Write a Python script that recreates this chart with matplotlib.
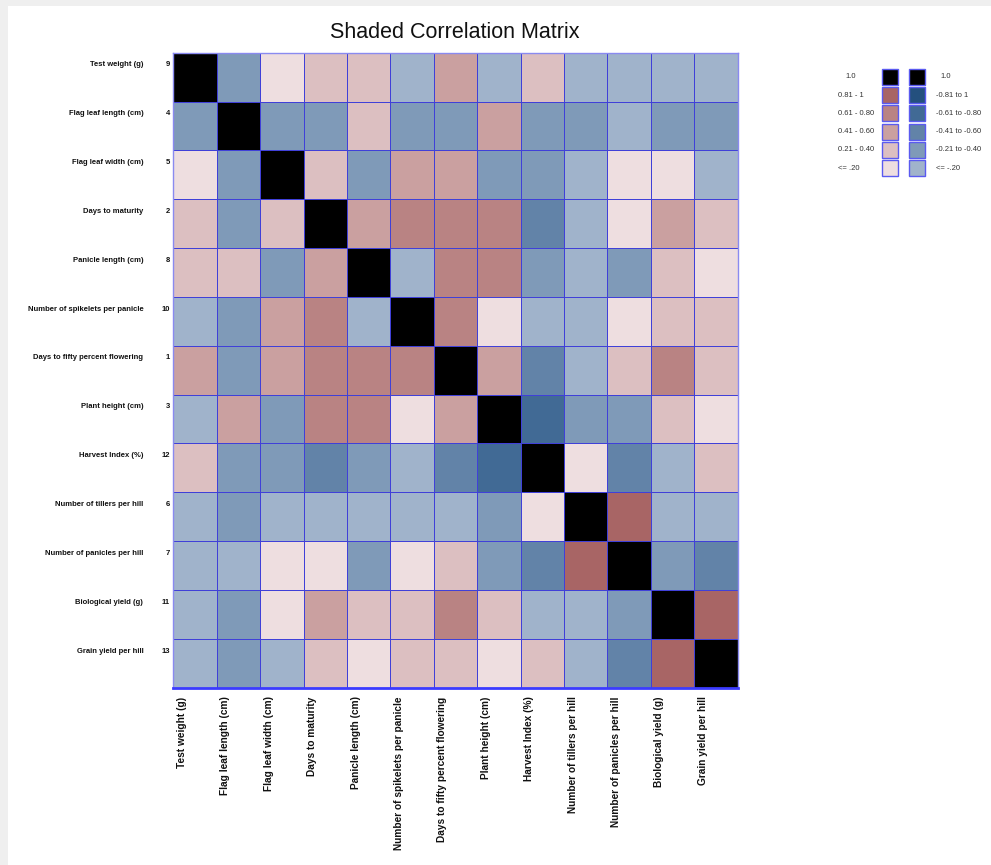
import numpy as np
import matplotlib
matplotlib.use('Agg')
import matplotlib.pyplot as plt
from matplotlib.colors import ListedColormap, BoundaryNorm
from matplotlib.patches import Rectangle

plt.rcParams['font.family'] = ['Liberation Sans', 'DejaVu Sans']
NARROW = ['Liberation Sans Narrow', 'Liberation Sans', 'DejaVu Sans']

# variables in display order, with their original index
names = [
    'Test weight (g)', 'Flag leaf length (cm)', 'Flag leaf width (cm)',
    'Days to maturity', 'Panicle length (cm)', 'Number of spikelets per panicle',
    'Days to fifty percent flowering', 'Plant height (cm)', 'Harvest Index (%)',
    'Number of tillers per hill', 'Number of panicles per hill',
    'Biological yield (g)', 'Grain yield per hill',
]
numbers = ['9', '4', '5', '2', '8', '10', '1', '3', '12', '6', '7', '11', '13']

# correlations estimated from the shading bins
corr = np.array([
    [1.00, -0.32, 0.12, 0.30, 0.31, -0.12, 0.50, -0.14, 0.29, -0.11, -0.13, -0.12, -0.10],
    [-0.32, 1.00, -0.30, -0.33, 0.28, -0.31, -0.34, 0.49, -0.30, -0.32, -0.15, -0.31, -0.29],
    [0.12, -0.30, 1.00, 0.32, -0.30, 0.51, 0.48, -0.33, -0.31, -0.13, 0.10, 0.14, -0.12],
    [0.30, -0.33, 0.32, 1.00, 0.52, 0.68, 0.70, 0.69, -0.50, -0.14, 0.11, 0.47, 0.30],
    [0.31, 0.28, -0.30, 0.52, 1.00, -0.15, 0.67, 0.71, -0.32, -0.12, -0.30, 0.33, 0.13],
    [-0.12, -0.31, 0.51, 0.68, -0.15, 1.00, 0.66, 0.12, -0.14, -0.11, 0.15, 0.29, 0.31],
    [0.50, -0.34, 0.48, 0.70, 0.67, 0.66, 1.00, 0.53, -0.48, -0.13, 0.27, 0.69, 0.30],
    [-0.14, 0.49, -0.33, 0.69, 0.71, 0.12, 0.53, 1.00, -0.70, -0.34, -0.31, 0.31, 0.11],
    [0.29, -0.30, -0.31, -0.50, -0.32, -0.14, -0.48, -0.70, 1.00, 0.13, -0.52, -0.12, 0.28],
    [-0.11, -0.32, -0.13, -0.14, -0.12, -0.11, -0.13, -0.34, 0.13, 1.00, 0.86, -0.14, -0.12],
    [-0.13, -0.15, 0.10, 0.11, -0.30, 0.15, 0.27, -0.31, -0.52, 0.86, 1.00, -0.33, -0.51],
    [-0.12, -0.31, 0.14, 0.47, 0.33, 0.29, 0.69, 0.31, -0.12, -0.14, -0.33, 1.00, 0.88],
    [-0.10, -0.29, -0.12, 0.30, 0.13, 0.31, 0.30, 0.11, 0.28, -0.12, -0.51, 0.88, 1.00],
])

# legend entries
pos_labels = ['1.0', '0.81 - 1', '0.61 - 0.80', '0.41 - 0.60', '0.21 - 0.40', '<= .20']
neg_labels = ['1.0', '-0.81 to 1', '-0.61 to -0.80', '-0.41 to -0.60', '-0.21 to -0.40', '<= -.20']
pos_levels = [1.0, 0.9, 0.7, 0.5, 0.3, 0.1]
neg_levels = [1.0, -0.9, -0.7, -0.5, -0.3, -0.1]

shade_colors = ['#24507e', '#416a95', '#6283a8', '#7f9ab8', '#a0b3cb',
                '#eedee0', '#dcbfc1', '#caa0a0', '#b98383', '#a86565', '#000000']
bounds = [-1.001, -0.805, -0.605, -0.405, -0.205, 0.0, 0.205, 0.405, 0.605, 0.805, 0.995, 1.001]
cmap = ListedColormap(shade_colors)
norm = BoundaryNorm(bounds, cmap.N)

W, H = 991, 865
fig = plt.figure(figsize=(W / 100, H / 100), dpi=100)
fig.patch.set_facecolor('#efefef')
fig.patches.append(Rectangle((8 / W, 0), 1, 1 - 6 / H, transform=fig.transFigure,
                             facecolor='white', edgecolor='none', zorder=-10))

n = len(names)
x0, x1, y0, y1 = 173.3, 737.5, 52.7, 687.7
ax = fig.add_axes([x0 / W, 1 - y1 / H, (x1 - x0) / W, (y1 - y0) / H])
ax.pcolormesh(np.arange(n + 1), np.arange(n + 1), corr, cmap=cmap, norm=norm,
              edgecolors='#4040d8', linewidth=0.6)
ax.set_xlim(0, n)
ax.set_ylim(n, 0)
ax.set_xticks([])
ax.set_yticks([])
for side, sp in ax.spines.items():
    sp.set_color('#3b3bff' if side == 'bottom' else '#8a8af0')
    sp.set_linewidth(2.0 if side == 'bottom' else 1.0)

for i, (name, num) in enumerate(zip(names, numbers)):
    ax.text(-30.0 / 43.4, i + 0.25, name, ha='right', va='center', fontsize=5.5,
            fontweight='bold', family=NARROW, color='#111111', clip_on=False)
    ax.text(-3.5 / 43.4, i + 0.25, num, ha='right', va='center', fontsize=5.5,
            fontweight='bold', family=NARROW, color='#111111', clip_on=False)
    ax.text(i + 0.2, n + 0.18, name, ha='center', va='top', rotation=90,
            fontsize=7.3, fontweight='bold', color='#111111', clip_on=False)

fig.text(455 / W, 1 - 33 / H, 'Shaded Correlation Matrix', ha='center', va='center',
         fontsize=15.5, color='#111111')

# legend drawn in pixel coordinates
lg = fig.add_axes([0, 0, 1, 1])
lg.set_xlim(0, W)
lg.set_ylim(H, 0)
lg.axis('off')
lg.patch.set_alpha(0)
sw, gap = 16, 18.2
for k in range(len(pos_levels)):
    yt = 69 + k * gap
    for xl, lev in ((882, pos_levels[k]), (909, neg_levels[k])):
        lg.add_patch(Rectangle((xl, yt), sw, sw, facecolor=cmap(norm(lev)),
                               edgecolor='#5a5af0', linewidth=1.0))
    lg.text(838 if k else 845, yt + sw / 2, pos_labels[k], ha='left', va='center',
            fontsize=5.5, family=NARROW, color='#333333')
    lg.text(936 if k else 940, yt + sw / 2, neg_labels[k], ha='left', va='center',
            fontsize=5.5, family=NARROW, color='#333333')

fig.savefig('out.png', dpi=100, facecolor=fig.get_facecolor())
